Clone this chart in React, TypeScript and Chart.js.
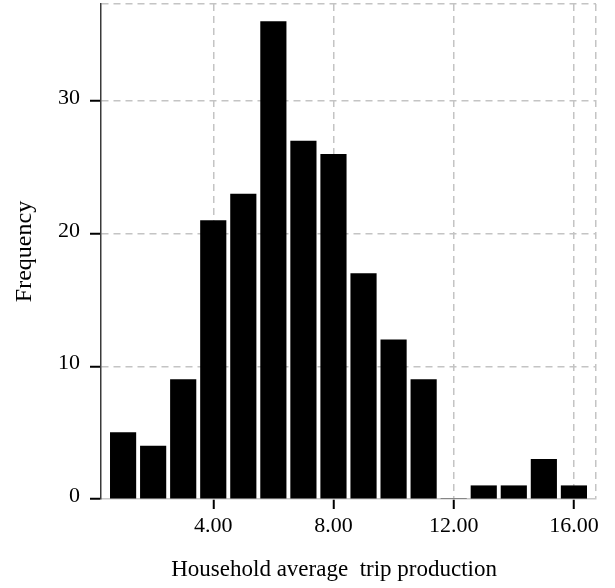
import React, { useEffect, useRef } from 'react';
import { Chart, registerables } from 'chart.js';

Chart.register(...registerables);

// Histogram bins (centre of each unit-wide bin) and their frequencies
const binCenters = [1, 2, 3, 4, 5, 6, 7, 8, 9, 10, 11, 12, 13, 14, 15, 16];
const frequencies = [5, 4, 9, 21, 23, 36, 27, 26, 17, 12, 9, 0, 1, 1, 3, 1];

// Axis ticks
const xTickValues = [4, 8, 12, 16];
const yTickValues = [0, 10, 20, 30];

// Axis ranges
const X_MIN = 0.265;
const X_MAX = 16.735;
const Y_MAX = 37.33;

const xTitle = 'Household average  trip production';
const yTitle = 'Frequency';

const FONT = "'Liberation Serif', 'Times New Roman', serif";
const GRID = '#c4c4c4';

export default function App() {
  const ref = useRef<HTMLCanvasElement | null>(null);

  useEffect(() => {
    if (!ref.current) return;
    const chart = new Chart(ref.current, {
      type: 'bar',
      data: {
        datasets: [
          {
            data: binCenters.map((x, i) => ({ x, y: frequencies[i] })),
            backgroundColor: '#000000',
            borderWidth: 0,
            barThickness: 25.5,
          },
        ],
      },
      options: {
        responsive: false,
        animation: false,
        layout: { padding: { left: 0, right: 19, top: 4, bottom: 0 } },
        plugins: { legend: { display: false }, tooltip: { enabled: false } },
        scales: {
          x: {
            type: 'linear',
            min: X_MIN,
            max: X_MAX,
            offset: false,
            afterBuildTicks: (scale: any) => {
              scale.ticks = [...xTickValues, X_MAX].map((v) => ({ value: v }));
            },
            afterFit: (scale: any) => {
              scale.height = 89;
              scale.paddingLeft = 0;
              scale.paddingRight = 0;
            },
            ticks: {
              autoSkip: false,
              maxRotation: 0,
              padding: 4,
              color: '#000',
              font: { family: FONT, size: 22 },
              callback: (v: any) => (v === X_MAX ? '' : Number(v).toFixed(2)),
            },
            grid: {
              offset: false,
              color: GRID,
              lineWidth: 1.5,
              drawTicks: true,
              tickLength: 10,
              tickWidth: 2,
              tickBorderDash: [],
              tickColor: (ctx: any) => (ctx.tick && ctx.tick.value === X_MAX ? 'rgba(0,0,0,0)' : '#000'),
            },
            border: { display: true, color: '#c8c8c8', width: 1.5, dash: [7, 5] },
            title: {
              display: true,
              text: xTitle + '     ',
              color: '#000',
              font: { family: FONT, size: 23 },
              padding: { top: 0, bottom: 4 },
            },
          },
          y: {
            type: 'linear',
            min: 0,
            max: Y_MAX,
            afterBuildTicks: (scale: any) => {
              scale.ticks = [...yTickValues, Y_MAX].map((v) => ({ value: v }));
            },
            afterFit: (scale: any) => {
              scale.width = 101;
              scale.paddingTop = 0;
              scale.paddingBottom = 0;
            },
            ticks: {
              autoSkip: false,
              padding: 10,
              labelOffset: -3,
              color: '#000',
              font: { family: FONT, size: 22 },
              callback: (v: any) => (v === Y_MAX ? '' : String(v)),
            },
            grid: {
              offset: false,
              color: (ctx: any) => (ctx.tick && ctx.tick.value === 0 ? 'rgba(0,0,0,0)' : GRID),
              lineWidth: 1.5,
              drawTicks: true,
              tickLength: 11,
              tickWidth: 2,
              tickBorderDash: [],
              tickColor: (ctx: any) => (ctx.tick && ctx.tick.value === Y_MAX ? 'rgba(0,0,0,0)' : '#000'),
            },
            border: { display: true, color: '#3a3a3a', width: 1.5, dash: [7, 5] },
            title: {
              display: true,
              text: yTitle,
              color: '#000',
              font: { family: FONT, size: 24 },
              padding: { top: 10, bottom: 0 },
            },
          },
        },
      },
    });
    return () => chart.destroy();
  }, []);

  return (
    <div style={{ position: 'fixed', left: 0, top: 0, width: 615, height: 588, background: '#fff' }}>
      <canvas ref={ref} width={615} height={588} style={{ display: 'block' }} />
    </div>
  );
}
